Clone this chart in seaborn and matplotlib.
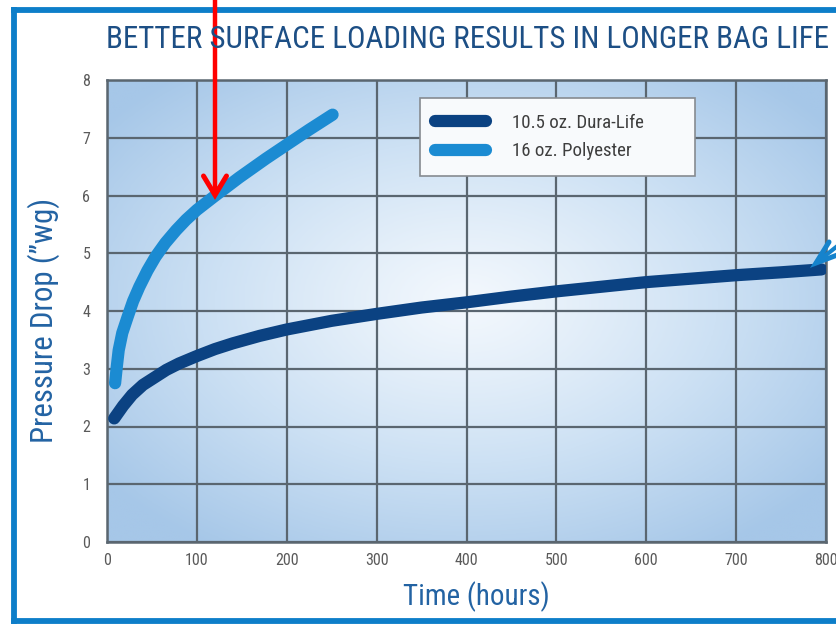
import numpy as np
import pandas as pd
import matplotlib
matplotlib.use("Agg")
import matplotlib.pyplot as plt
from matplotlib import font_manager as fm
from matplotlib.lines import Line2D
from matplotlib.colors import LinearSegmentedColormap
import seaborn as sns

# Pressure drop over time for two filter bag fabrics
dura_hours = [8, 18, 28, 40, 54, 66, 80, 100, 120, 140, 170, 200, 250, 300, 350, 400, 450, 500, 550, 600, 650, 700, 750, 795]
dura_dp = [2.14, 2.36, 2.55, 2.72, 2.86, 2.98, 3.09, 3.22, 3.34, 3.44, 3.57, 3.68, 3.83, 3.95, 4.06, 4.15, 4.25, 4.34, 4.42, 4.50, 4.56, 4.62, 4.67, 4.72]

poly_hours = [9, 11, 13, 17, 23, 29, 36, 45, 54, 65, 77, 88, 100, 119, 147, 177, 200, 225, 251]
poly_dp = [2.75, 3.05, 3.32, 3.62, 3.90, 4.17, 4.42, 4.70, 4.94, 5.18, 5.40, 5.58, 5.75, 5.98, 6.31, 6.64, 6.88, 7.14, 7.40]

series_names = ["10.5 oz. Dura-Life", "16 oz. Polyester"]
series_colors = ["#0b4282", "#1b8bd2"]

x_ticks = [0, 100, 200, 300, 400, 500, 600, 700, 800]
y_ticks = [0, 1, 2, 3, 4, 5, 6, 7, 8]

title_text = "BETTER SURFACE LOADING RESULTS IN LONGER BAG LIFE"
x_label = "Time (hours)"
y_label = "Pressure Drop (\u201dwg)"

df = pd.concat([
    pd.DataFrame({"hours": dura_hours, "dp": dura_dp, "fabric": series_names[0]}),
    pd.DataFrame({"hours": poly_hours, "dp": poly_dp, "fabric": series_names[1]}),
], ignore_index=True)

sns.set_style("white")

# pick a narrow sans face if one is available
installed = {f.name for f in fm.fontManager.ttflist}
narrow_family = None
for cand in ["Roboto Condensed", "Liberation Sans Narrow", "Open Sans Condensed",
             "DejaVu Sans Condensed", "Noto Sans Condensed", "Arial Narrow"]:
    if cand in installed:
        narrow_family = cand
        break
if narrow_family is None:
    narrow_family = "DejaVu Sans"
    has_cond = any(f.name == "DejaVu Sans" and f.stretch == "condensed"
                   for f in fm.fontManager.ttflist)
    stretch = "condensed" if has_cond else "normal"
else:
    stretch = "normal"
family = [narrow_family, "DejaVu Sans"]
plt.rcParams["font.family"] = family
plt.rcParams["font.stretch"] = stretch

W, H = 837, 624
fig = plt.figure(figsize=(W / 100, H / 100), dpi=100)
fig.patch.set_facecolor("white")


def fx(px):
    return px / W


def fy(py):
    return 1 - py / H


ax = fig.add_axes([fx(107), fy(542), fx(826) - fx(107), fy(80) - fy(542)])

# soft radial background inside the plot area
nu, nv = 400, 240
u = np.linspace(0, 1, nu)
v = np.linspace(0, 1, nv)
U, V = np.meshgrid(u, v)
d = np.sqrt(((U - 0.5) / 0.64) ** 2 + ((V - 0.52) / 0.64) ** 2)
d = np.clip(d, 0, 1) ** 1.15
bg_cmap = LinearSegmentedColormap.from_list("bg", ["#f3f8fd", "#cde1f4", "#a6c7e8"])
ax.imshow(d, cmap=bg_cmap, vmin=0, vmax=1, extent=[0, 800, 0, 8], origin="lower",
          aspect="auto", zorder=-1, interpolation="bilinear")

sns.lineplot(data=df, x="hours", y="dp", hue="fabric", hue_order=series_names,
             palette=series_colors, linewidth=8.8, sort=False, estimator=None,
             ax=ax, zorder=3)
for ln in ax.get_lines():
    ln.set_solid_capstyle("round")
    ln.set_solid_joinstyle("round")

ax.set_xlim(0, 800)
ax.set_ylim(0, 8)
ax.set_xticks(x_ticks)
ax.set_yticks(y_ticks)
ax.set_xticklabels([str(t) for t in x_ticks])
ax.set_yticklabels([str(t) for t in y_ticks])
ax.set_axisbelow(True)
ax.grid(True, color="#5a6670", linewidth=1.6)
for sp in ax.spines.values():
    sp.set_visible(True)
    sp.set_color("#5a6670")
    sp.set_linewidth(1.8)
ax.tick_params(axis="both", length=0, labelsize=11.5, labelcolor="#5a5a5a")
ax.tick_params(axis="x", pad=8)
ax.tick_params(axis="y", pad=12)
ax.set_xlabel("")
ax.set_ylabel("")

handles, labels = ax.get_legend_handles_labels()
leg = ax.legend(handles, labels, loc="upper left",
                bbox_to_anchor=(0.4353, 0.785, 0.3825, 0.176), mode="expand",
                frameon=True, fancybox=False, framealpha=1, facecolor="#f8fafc",
                edgecolor="#868b90", fontsize=13.6, handlelength=2.7,
                handletextpad=1.35, borderpad=0.82, labelspacing=0.58,
                borderaxespad=0)
leg.get_frame().set_linewidth(1.2)
for t in leg.get_texts():
    t.set_color("#3e3e3e")
for hl in leg.get_lines():
    hl.set_solid_capstyle("round")
    hl.set_linewidth(8.8)

t_title = fig.text(fx(468), fy(40), title_text, ha="center", va="center",
                   fontsize=22, color="#1d4f85")
t_x = fig.text(fx(476), fy(597), x_label, ha="center", va="center",
               fontsize=17, color="#2363a3")
t_y = fig.text(fx(44), fy(320), y_label, ha="center", va="center", rotation=90,
               fontsize=17, color="#2363a3")

# size the headline and axis titles to their printed extents
renderer = fig.canvas.get_renderer()
for txt, target, horizontal in [(t_title, 724, True), (t_x, 147, True), (t_y, 244, False)]:
    bb = txt.get_window_extent(renderer)
    span = bb.width if horizontal else bb.height
    txt.set_fontsize(txt.get_fontsize() * target / span)

# outer frame
frame_col = "#0d7ec9"
for xs, ys in [([14.5, 14.5], [10, 621]), ([14.5, 900], [10, 10]), ([14.5, 900], [621, 621])]:
    fig.add_artist(Line2D([fx(p) for p in xs], [fy(p) for p in ys], color=frame_col,
                          linewidth=4.2, transform=fig.transFigure,
                          solid_capstyle="projecting"))

# red pointer
red = "#ff0000"
fig.add_artist(Line2D([fx(215), fx(215)], [fy(-5), fy(192)], color=red, linewidth=3.2,
                      transform=fig.transFigure))
fig.add_artist(Line2D([fx(203.5), fx(215), fx(226.5)], [fy(176), fy(195), fy(176)],
                      color=red, linewidth=3.6, transform=fig.transFigure,
                      solid_capstyle="round", solid_joinstyle="miter"))

# blue pointer at the right edge
blue = "#1683cc"
fig.add_artist(Line2D([fx(816), fx(850)], [fy(263), fy(236)], color=blue, linewidth=3.0,
                      transform=fig.transFigure))
fig.add_artist(Line2D([fx(829), fx(816), fx(840)], [fy(242), fy(263), fy(254)],
                      color=blue, linewidth=3.6, transform=fig.transFigure,
                      solid_capstyle="round", solid_joinstyle="miter"))

fig.savefig("out.png", dpi=100)
